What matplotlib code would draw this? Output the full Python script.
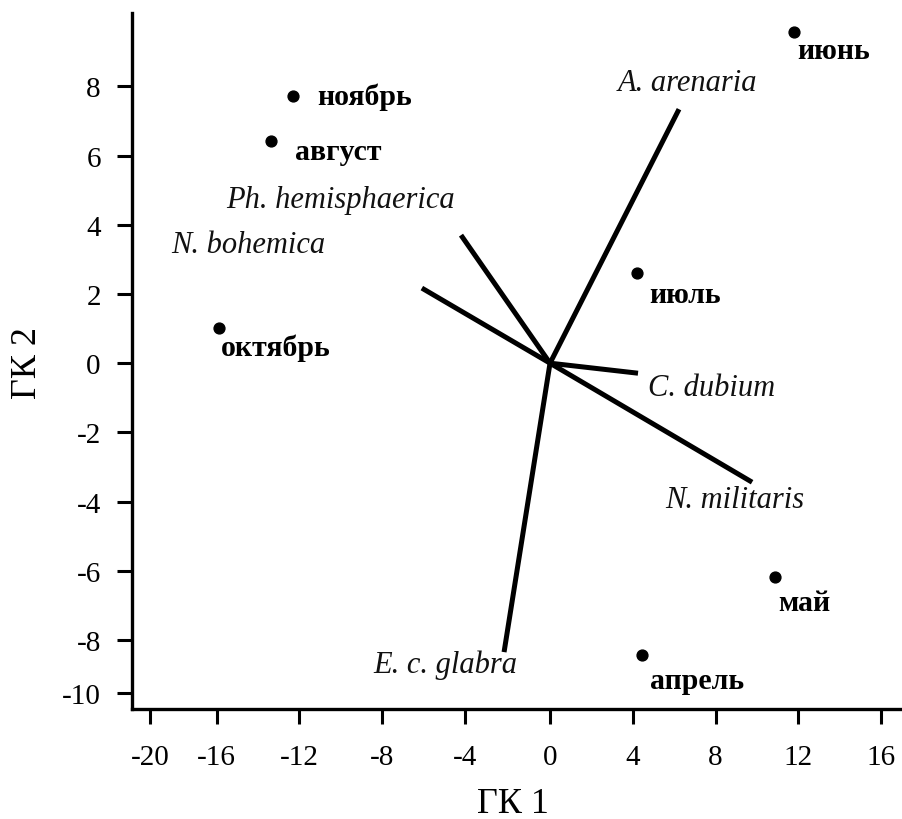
import matplotlib
matplotlib.use("Agg")
import matplotlib.pyplot as plt

# Months (sample points)
months = ["апрель", "май", "июнь", "июль", "август", "октябрь", "ноябрь"]
month_x = [4.46, 10.87, 11.76, 4.20, -13.48, -15.98, -12.40]
month_y = [-8.43, -6.19, 9.56, 2.60, 6.43, 1.03, 7.71]

# Species (loading vectors)
species = ["A. arenaria", "Ph. hemisphaerica", "N. bohemica", "C. dubium", "N. militaris", "E. c. glabra"]
species_x = [6.23, -4.30, -6.19, 4.25, 9.76, -2.22]
species_y = [7.34, 3.70, 2.17, -0.29, -3.44, -8.35]

# Ticks
xtick_labels = ["-20", "-16", "-12", "-8", "-4", "0", "4", "8", "12", "16"]
xtick_pos = [-19.3, -16.1, -12.1, -8.1, -4.1, 0, 4, 8, 12, 16]
ytick_labels = ["-10", "-8", "-6", "-4", "-2", "0", "2", "4", "6", "8"]
ytick_pos = [-9.53, -8, -6, -4, -2, 0, 2, 4, 6, 8]

# label placement (offset pixels, alignment)
month_off = [(8, -26), (3, -25), (4, -18), (12, -21), (24, -11), (2, -20), (24, 0)]
species_off = [(-61, 27, "left"), (-6, 36, "right"), (-97, 44, "right"),
               (10, -14, "left"), (-87, -17, "left"), (13, -12, "right")]

plt.rcParams['font.family'] = ['Liberation Serif', 'DejaVu Serif']

fig = plt.figure(figsize=(9.02, 8.2), dpi=100)
L, B, T = 132 / 902, 1 - 709.5 / 820, 1 - 14 / 820
ax = fig.add_axes([L, B, 1.0 - L, T - B])

for sx, sy in zip(species_x, species_y):
    ax.plot([0, sx], [0, sy], color="black", lw=3.6, solid_capstyle="butt", zorder=2)

ax.plot(month_x, month_y, "o", color="black", ms=7.8, zorder=3)

for name, x, y, (dx, dy) in zip(months, month_x, month_y, month_off):
    ax.annotate(name, (x, y), xytext=(dx, dy), textcoords="offset pixels",
                ha="left", va="center", fontsize=21.5, fontweight="bold", color="black")

for name, x, y, (dx, dy, ha) in zip(species, species_x, species_y, species_off):
    ax.annotate(name, (x, y), xytext=(dx, dy), textcoords="offset pixels",
                ha=ha, va="center", fontsize=22, fontstyle="italic", color="#111111")

ax.set_xlim(-20.19, 17.0)
ax.set_ylim(-9.98, 10.12)
ax.set_xticks(xtick_pos)
ax.set_xticklabels(xtick_labels)
ax.set_yticks(ytick_pos)
ax.set_yticklabels(ytick_labels)

for s in ["top", "right"]:
    ax.spines[s].set_visible(False)
for s in ["left", "bottom"]:
    ax.spines[s].set_linewidth(2.4)
ax.tick_params(direction="out", length=10.5, width=2.2, labelsize=21)
ax.tick_params(axis="y", pad=12)
ax.tick_params(axis="x", pad=15)

fig.text(513 / 902, 1 - 813 / 820, "ГК 1", ha="center", va="baseline", fontsize=26)
fig.text(27 / 902, 1 - 363 / 820, "ГК 2", ha="center", va="center", fontsize=26, rotation=90)

fig.savefig("out.png", dpi=100)
